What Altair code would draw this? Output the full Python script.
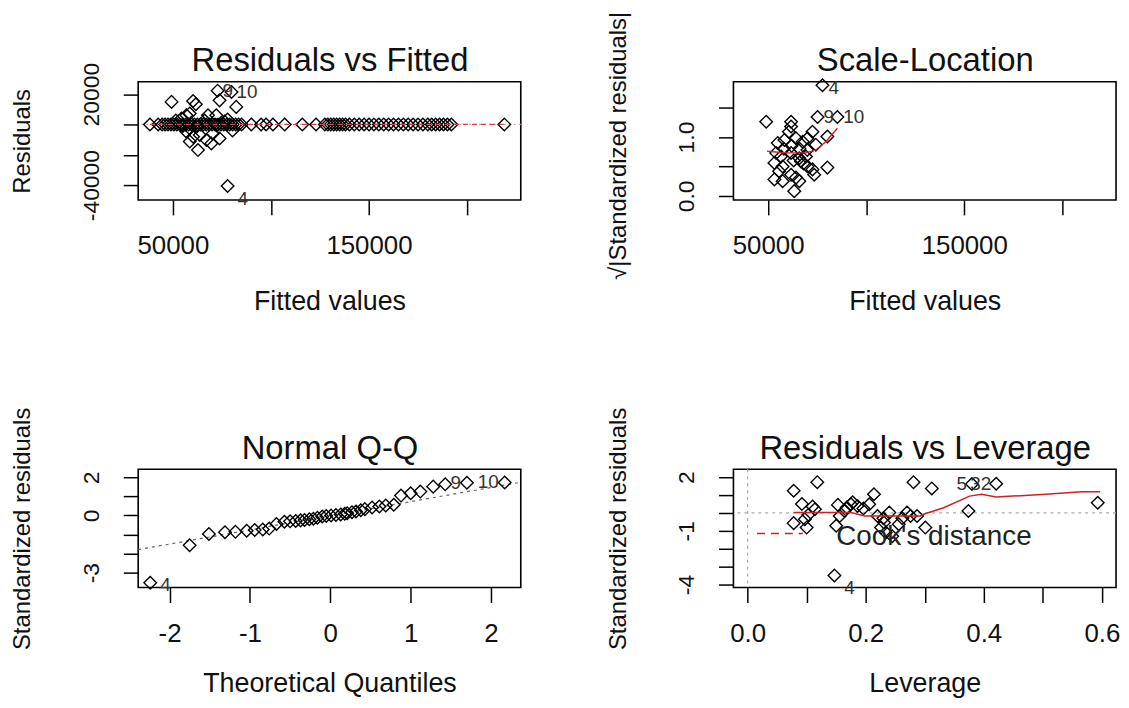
import altair as alt
import pandas as pd

FONT = "Liberation Sans"
W, H = 385, 119
INK = "#111111"
RED = "#cc2222"

# ---------------- Residuals vs Fitted ----------------
rvf_zero_fitted = [38300, 42500, 44500, 46000, 47500, 49000, 50500, 52000, 53500, 55000,
                   56500, 58000, 59500, 61000, 62500, 64000, 65500, 67000, 68500, 70000,
                   71500, 73000, 74500, 76000, 77500, 79000, 80500, 82000, 83500, 85000,
                   90000, 95000, 97500, 101000, 107000, 116000, 123000, 127500, 129000,
                   130500, 132000, 133500, 135000, 136500, 138000, 140000, 142500, 145000,
                   147500, 150000, 152500, 155000, 157500, 160000, 162500, 165000, 167500,
                   170000, 172500, 175000, 177500, 180000, 182000, 184000, 186000, 188000,
                   190000, 192000, 219000]
rvf_fitted = [49300, 60300, 61700, 72800, 73800, 82300, 56900, 58600, 67900, 72100, 54400,
              79900, 56900, 60300, 58600, 63700, 67100, 70400, 73800, 69600, 62800, 55100,
              62200, 72300, 80400, 77900, 51500, 66200, 76300, 58600, 77900]
rvf_resid = [14900, 15500, 13300, 22300, 15900, 11600, 6100, 7200, 6100, 6100, 3900,
             21400, -4800, -8100, -11300, -7000, -10300, -5900, -9200, -12500, -16900, -1000,
             -1300, -700, -3900, -40600, 2600, 2600, 2000, -2600, 3300]
rvf_line_x = [38300, 219000]
rvf_line_y = [0, 0]
rvf_up_ids = ["9", "10"]
rvf_up_x = [72800, 79900]
rvf_up_y = [22300, 21400]
rvf_dn_ids = ["4"]
rvf_dn_x = [77900]
rvf_dn_y = [-40600]
rvf_x_ticks = [50000, 100000, 150000, 200000]
rvf_x_labels = ["50000", "", "150000", ""]
rvf_y_ticks = [-40000, -20000, 0, 20000]
rvf_y_labels = ["-40000", "", "", "20000"]

# ---------------- Scale-Location ----------------
sl_fitted = [77700, 49000, 61700, 61700, 60600, 75200, 85300, 72600, 80200, 54900,
             58300, 64200, 67600, 70100, 74300, 54100, 56600, 61700, 65900, 69300,
             53200, 57400, 66700, 70100, 72600, 80200, 55600, 61700, 64200, 53200,
             57400, 65900, 73500, 63300, 58000, 62000, 66000, 70000, 63000, 68000]
sl_value = [1.88, 1.26, 1.26, 1.18, 1.09, 1.34, 1.34, 1.09, 1.01, 0.90,
            0.95, 0.98, 0.92, 0.98, 0.87, 0.73, 0.67, 0.73, 0.64, 0.67,
            0.56, 0.50, 0.59, 0.50, 0.45, 0.48, 0.42, 0.36, 0.31, 0.28,
            0.25, 0.25, 0.36, 0.08, 0.80, 0.85, 0.80, 0.78, 0.60, 0.55]
sl_smooth_x = [49400, 55000, 60000, 65000, 69300, 74300, 79400, 85300]
sl_smooth_y = [0.76, 0.74, 0.73, 0.73, 0.73, 0.78, 0.92, 1.15]
sl_top_ids = ["4"]
sl_top_x = [77700]
sl_top_y = [1.88]
sl_ids = ["9", "10"]
sl_id_x = [75200, 85300]
sl_id_y = [1.34, 1.34]
sl_y_ticks = [0.0, 0.5, 1.0, 1.5]
sl_y_labels = ["0.0", "", "1.0", ""]

# ---------------- Normal Q-Q ----------------
qq_theory = [-2.24, -1.75, -1.51, -1.31, -1.18, -1.04, -0.94, -0.84, -0.76, -0.67,
             -0.57, -0.50, -0.43, -0.37, -0.32, -0.26, -0.21, -0.16, -0.10, -0.05,
             0.01, 0.07, 0.13, 0.18, 0.21, 0.27, 0.32, 0.38, 0.43, 0.52,
             0.61, 0.69, 0.79, 0.88, 1.00, 1.12, 1.28, 1.43, 1.70, 2.17]
qq_std = [-3.53, -1.56, -0.97, -0.88, -0.86, -0.80, -0.76, -0.74, -0.69, -0.45,
          -0.33, -0.31, -0.29, -0.26, -0.24, -0.20, -0.17, -0.12, -0.06, -0.03,
          0.00, 0.02, 0.05, 0.09, 0.12, 0.17, 0.21, 0.27, 0.33, 0.42,
          0.47, 0.52, 0.56, 1.04, 1.16, 1.25, 1.51, 1.63, 1.71, 1.73]
qq_line_x = [-2.39, 2.37]
qq_line_y = [-1.79, 1.74]
qq_lo_ids = ["4"]
qq_lo_x = [-2.24]
qq_lo_y = [-3.53]
qq_hi_ids = ["9", "10"]
qq_hi_x = [1.70, 2.17]
qq_hi_y = [1.71, 1.73]
qq_x_ticks = [-2, -1, 0, 1, 2]
qq_x_labels = ["-2", "-1", "0", "1", "2"]
qq_y_ticks = [-3, -2, -1, 0, 1, 2]
qq_y_labels = ["-3", "", "", "0", "", "2"]

# ---------------- Residuals vs Leverage ----------------
lev_x = [0.078, 0.118, 0.092, 0.110, 0.114, 0.103, 0.097, 0.078, 0.100, 0.153,
         0.156, 0.164, 0.178, 0.175, 0.186, 0.150, 0.147, 0.214, 0.206, 0.220,
         0.231, 0.226, 0.240, 0.234, 0.245, 0.256, 0.270, 0.276, 0.287, 0.301,
         0.281, 0.312, 0.374, 0.380, 0.421, 0.593, 0.168, 0.196, 0.262, 0.230]
lev_y = [1.24, 1.72, 0.50, 0.36, 0.21, -0.10, -0.35, -0.57, -0.82, 0.45,
         -0.17, 0.11, 0.60, 0.48, 0.39, -0.72, -3.50, 1.04, 0.48, -0.17,
         -0.54, -0.82, 0.02, -1.09, -1.30, -0.63, 0.02, -0.17, -0.17, -0.82,
         1.72, 1.37, 0.11, 1.62, 1.63, 0.57, 0.30, 0.25, -0.30, -0.30]
lev_smooth_x = [0.078, 0.175, 0.198, 0.293, 0.298, 0.332, 0.376, 0.396, 0.421, 0.449,
                0.505, 0.566, 0.597]
lev_smooth_y = [0.02, 0.02, -0.17, -0.17, -0.07, 0.29, 0.94, 1.04, 0.89, 0.94,
                1.04, 1.18, 1.18]
cook_legend_x = [0.016, 0.094]
cook_legend_y = [-1.15, -1.15]
cook_text_x = [0.150]
cook_text_y = [-1.33]
cook_text = ["Cook's distance"]
lev_lo_ids = ["4"]
lev_lo_x = [0.147]
lev_lo_y = [-3.50]
lev_hi_ids = ["5", "32"]
lev_hi_x = [0.380, 0.421]
lev_hi_y = [1.62, 1.63]
lev_x_ticks = [0.0, 0.1, 0.2, 0.3, 0.4, 0.5, 0.6]
lev_x_labels = ["0.0", "", "0.2", "", "0.4", "", "0.6"]
lev_y_ticks = [-4, -3, -2, -1, 0, 1, 2]
lev_y_labels = ["-4", "", "", "-1", "", "", "2"]


def label_expr(ticks, labels):
    expr = "''"
    for t, l in reversed(list(zip(ticks, labels))):
        expr = f"(abs(datum.value - ({t})) < 1e-6 ? '{l}' : {expr})"
    return expr


def df(xs, ys, **extra):
    d = {"x": xs, "y": ys}
    d.update(extra)
    return pd.DataFrame(d)


class Panel:
    def __init__(self, title, xdom, ydom, xticks, xlabels, yticks, ylabels,
                 xtitle, ytitle, xtitle_y, ytitle_y):
        self.xs = alt.Scale(domain=xdom, nice=False, zero=False)
        self.ys = alt.Scale(domain=ydom, nice=False, zero=False)
        common = dict(tickSize=15, tickWidth=1.5, tickColor="black", domain=False,
                      grid=False, labelFont=FONT, labelColor=INK, labelFlush=False,
                      labelOverlap=False, titleFont=FONT, titleFontWeight="normal",
                      titleColor=INK)
        self.x_axis = alt.Axis(orient="bottom", values=xticks,
                               labelExpr=label_expr(xticks, xlabels), title=xtitle,
                               labelFontSize=26, labelPadding=18, titleFontSize=27,
                               titleX=W / 2, titleY=xtitle_y, titleAlign="center",
                               titleBaseline="alphabetic", titleAngle=0, **common)
        self.y_axis = alt.Axis(orient="left", values=yticks,
                               labelExpr=label_expr(yticks, ylabels), title=ytitle,
                               labelAngle=270, labelAlign="center", labelBaseline="bottom",
                               labelFontSize=23, labelPadding=20, titleFontSize=24,
                               titleAngle=270, titleX=-104, titleY=ytitle_y,
                               titleAlign="center", titleBaseline="bottom", **common)
        self.t_axis = alt.Axis(orient="top", labels=False, ticks=False, domain=False,
                               grid=False, title=title, titleFont=FONT, titleFontSize=33,
                               titleFontWeight="normal", titleColor=INK, titleX=W / 2,
                               titleY=-11, titleAlign="center", titleBaseline="alphabetic",
                               titleAngle=0)
        self.layers = []

    def x(self, kind="none"):
        axis = {"main": self.x_axis, "title": self.t_axis}.get(kind)
        if axis is None:
            return alt.X("x:Q", scale=self.xs, axis=None)
        return alt.X("x:Q", scale=self.xs, axis=axis)

    def y(self):
        return alt.Y("y:Q", scale=self.ys, axis=self.y_axis)

    def points(self, data, main=False):
        self.layers.append(
            alt.Chart(data).mark_point(shape="diamond", filled=False, color="black",
                                       strokeWidth=1.4, size=160, opacity=1)
            .encode(x=self.x("main" if main else "none"), y=self.y()))
        if main:
            self.layers.append(
                alt.Chart(data).mark_point(opacity=0)
                .encode(x=self.x("title"), y=self.y()))

    def line(self, data, color, dash=None, width=1.3):
        kw = dict(color=color, strokeWidth=width, clip=True)
        if dash:
            kw["strokeDash"] = dash
        self.layers.append(alt.Chart(data).mark_line(**kw).encode(
            x=self.x(), y=self.y(), order="order:Q"))

    def hrule(self, data, color, dash, width=1.2):
        self.layers.append(alt.Chart(data).mark_rule(
            color=color, strokeDash=dash, strokeWidth=width).encode(y=self.y()))

    def vrule(self, data, color, dash, width=1.2):
        self.layers.append(alt.Chart(data).mark_rule(
            color=color, strokeDash=dash, strokeWidth=width).encode(x=self.x()))

    def text(self, data, align, dx, dy, size=19, color="#333333"):
        self.layers.append(alt.Chart(data).mark_text(
            font=FONT, fontSize=size, color=color, align=align, baseline="middle",
            dx=dx, dy=dy).encode(x=self.x(), y=self.y(), text="t:N"))

    def chart(self):
        return alt.layer(*self.layers).resolve_axis(x="independent").properties(
            width=W, height=H)


def ordered(xs, ys):
    return df(xs, ys, order=list(range(len(xs))))


# Panel 1
p1 = Panel("Residuals vs Fitted", [32300, 227400], [-49800, 28200],
           rvf_x_ticks, rvf_x_labels, rvf_y_ticks, rvf_y_labels,
           "Fitted values", "Residuals", 110, 59.5)
p1.hrule(df([0], [0]), "#c8a8a8", [2, 3])
p1.points(df(rvf_zero_fitted, [0] * len(rvf_zero_fitted)), main=True)
p1.points(df(rvf_fitted, rvf_resid))
p1.line(ordered(rvf_line_x, rvf_line_y), "#d04848", dash=[5, 4], width=1.2)
p1.text(df(rvf_up_x, rvf_up_y, t=rvf_up_ids), "left", 5, 0)
p1.text(df(rvf_dn_x, rvf_dn_y, t=rvf_dn_ids), "left", 10, 13)

# Panel 2
p2 = Panel("Scale-Location", [32300, 227400], [-0.07, 1.94],
           rvf_x_ticks, rvf_x_labels, sl_y_ticks, sl_y_labels,
           "Fitted values", "√|Standardized residuals|", 110, 64)
p2.points(df(sl_fitted, sl_value), main=True)
p2.line(ordered(sl_smooth_x, sl_smooth_y), RED, width=1.4)
p2.text(df(sl_top_x, sl_top_y, t=sl_top_ids), "left", 6, 3)
p2.text(df(sl_id_x, sl_id_y, t=sl_ids), "left", 6, 0)

# Panel 3
p3 = Panel("Normal Q-Q", [-2.39, 2.37], [-3.78, 2.42],
           qq_x_ticks, qq_x_labels, qq_y_ticks, qq_y_labels,
           "Theoretical Quantiles", "Standardized residuals", 105, 59.5)
p3.line(ordered(qq_line_x, qq_line_y), "#666666", dash=[3, 4], width=1.2)
p3.points(df(qq_theory, qq_std), main=True)
p3.text(df(qq_lo_x, qq_lo_y, t=qq_lo_ids), "left", 10, 2)
p3.text(df(qq_hi_x, qq_hi_y, t=qq_hi_ids), "right", -6, 0)

# Panel 4
p4 = Panel("Residuals vs Leverage", [-0.024, 0.624], [-4.17, 2.44],
           lev_x_ticks, lev_x_labels, lev_y_ticks, lev_y_labels,
           "Leverage", "Standardized residuals", 105, 59.5)
p4.hrule(df([0], [0]), "#aaaaaa", [3, 4])
p4.vrule(df([0], [0]), "#aaaaaa", [3, 4])
p4.points(df(lev_x, lev_y), main=True)
p4.line(ordered(lev_smooth_x, lev_smooth_y), RED, width=1.5)
p4.line(ordered(cook_legend_x, cook_legend_y), RED, dash=[8, 6], width=1.5)
p4.text(df(cook_text_x, cook_text_y, t=cook_text), "left", 0, 0, size=28, color="#222222")
p4.text(df(lev_lo_x, lev_lo_y, t=lev_lo_ids), "left", 10, 13)
p4.text(df(lev_hi_x, lev_hi_y, t=lev_hi_ids), "right", -5, 0)

chart = alt.concat(
    p1.chart(), p2.chart(), p3.chart(), p4.chart(),
    columns=2, spacing={"row": 271, "column": 214}, bounds="flush",
).properties(
    padding={"left": 2, "top": 0, "right": 0, "bottom": 0}
).configure_view(stroke="black", strokeWidth=1.6)

chart.save("out.html", embed_options={"renderer": "svg", "actions": False})
